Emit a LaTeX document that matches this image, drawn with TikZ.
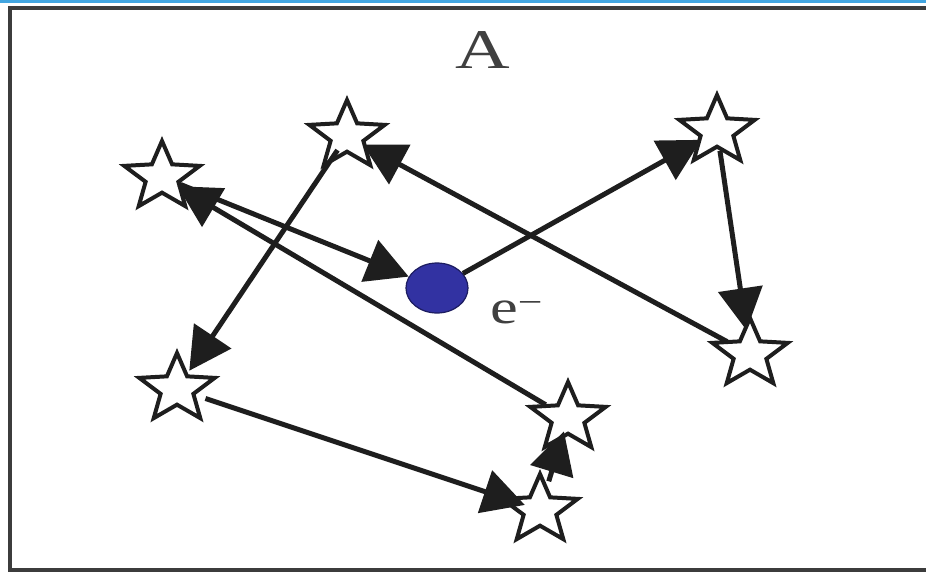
\documentclass[tikz,border=0pt]{standalone}
\usepackage{fontspec}
\setmainfont{Liberation Serif}
\usetikzlibrary{arrows.meta,shapes.geometric}
\definecolor{ink}{HTML}{1E1E1E}
\definecolor{framegray}{HTML}{3C3C3C}
\definecolor{topblue}{HTML}{42A5E0}
\definecolor{eblue}{HTML}{3232A2}
\definecolor{eedge}{HTML}{1C1C60}
\begin{document}
\begin{tikzpicture}[x=1pt,y=-1pt,
  trap/.style={star, star points=5, star point ratio=2.3, minimum size=72pt, inner sep=0pt,
               draw=ink, line width=4pt, fill=white},
  hop/.style={draw=ink, line width=5pt, -{Triangle[length=42pt,width=44pt]}},
  lbl/.style={inner sep=0pt, text=ink!85}
]
\useasboundingbox (0,0) rectangle (926,574);
\fill[topblue] (0,0) rectangle (926,2.5);
\draw[framegray, line width=4.5pt] (932,8) -- (10,8) -- (10,570) -- (932,570);

\begin{scope}[xscale=1.1, transform shape]
  \node[trap] (s1) at ({162/1.1},177) {};
  \node[trap] (s2) at ({347/1.1},136) {};
  \node[trap] (s3) at ({717/1.1},131) {};
  \node[trap] (s4) at ({750/1.1},354) {};
  \node[trap] (s5) at ({177/1.1},389) {};
  \node[trap] (s6) at ({568/1.1},418) {};
  \node[trap] (s7) at ({540/1.1},510) {};
\end{scope}

\node[ellipse, minimum width=62pt, minimum height=50pt, inner sep=0pt,
      fill=eblue, draw=eedge, line width=1.2pt] (e) at (437,288) {};

\draw[hop, shorten <=20pt] (s1.center) -- (e);
\draw[hop, shorten >=18pt] (e) -- (s3.center);
\draw[hop, shorten <=20pt, shorten >=24pt] (s3.center) -- (s4.center);
\draw[hop, shorten <=26pt, shorten >=18pt] (s4.center) -- (s2.center);
\draw[hop, shorten <=17pt, shorten >=22pt] (s2.center) -- (s5.center);
\draw[hop, shorten <=30pt, shorten >=16pt] (s5.center) -- (s7.center);
\draw[hop, shorten <=30pt, shorten >=14pt] (s7.center) -- (s6.center);
\draw[hop, shorten <=26pt, shorten >=18pt] (s6.center) -- (s1.center);

\node[lbl, anchor=base, font=\fontsize{56}{60}\selectfont] (labA) at (483,68) {\scalebox{1.35}[1]{A}};
\node[lbl, anchor=base west, font=\fontsize{48}{52}\selectfont] (labe) at (490,323) {\scalebox{1.3}[1]{e\textsuperscript{−}}};
\end{tikzpicture}
\end{document}
